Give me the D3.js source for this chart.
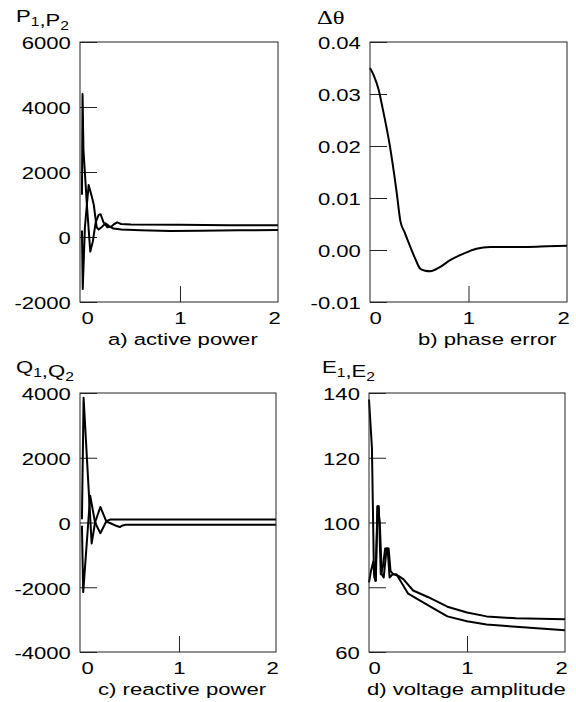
<!DOCTYPE html>
<html>
<head>
<meta charset="utf-8">
<script src="https://cdn.jsdelivr.net/npm/d3@7"></script>
<style>
body { margin: 0; background: #fff; }
text { font-family: "Liberation Sans", Arial, sans-serif; fill: #000; }
</style>
</head>
<body>
<div id="chart"></div>
<script>
// a) active power
const p1Time = [0, 0.006, 0.015, 0.05, 0.085, 0.11, 0.14, 0.17, 0.19, 0.22, 0.26, 0.3, 0.33, 0.36, 0.4, 0.5, 1, 1.5, 2];
const p1Val  = [1300, 4400, 2700, 1000, -450, -150, 450, 680, 700, 450, 300, 320, 400, 450, 400, 385, 375, 365, 360];
const p2Time = [0, 0.008, 0.03, 0.068, 0.1, 0.12, 0.15, 0.17, 0.2, 0.24, 0.28, 0.32, 0.4, 0.6, 0.9, 1.2, 1.6, 2];
const p2Val  = [200, -1600, 300, 1600, 1250, 1000, 300, 230, 300, 420, 330, 260, 230, 210, 185, 195, 205, 215];

// b) phase error
const dTime = [0, 0.04, 0.085, 0.13, 0.2, 0.27, 0.31, 0.35, 0.39, 0.46, 0.51, 0.56, 0.61, 0.66, 0.71, 0.81, 0.95, 1.08, 1.22, 1.4, 1.6, 1.8, 2];
const dVal  = [0.035, 0.0335, 0.031, 0.0271, 0.0202, 0.0112, 0.0054, 0.0035, 0.0015, -0.0017, -0.0036, -0.004, -0.0041, -0.0038, -0.0033, -0.002, -0.0007, 0.00025, 0.0006, 0.0006, 0.0006, 0.0007, 0.0008];

// c) reactive power
const q1Time = [0, 0.017, 0.1, 0.135, 0.19, 0.25, 0.29, 1, 2];
const q1Val  = [100, 3850, -650, 0, 480, 40, 90, 92, 92];
const q2Time = [0, 0.013, 0.085, 0.135, 0.19, 0.25, 0.3, 0.36, 0.39, 0.42, 0.45, 1, 2];
const q2Val  = [-100, -2150, 830, 0, -330, 30, -30, -110, -140, -90, -72, -72, -72];

// d) voltage amplitude
const e1Time = [0, 0.03, 0.05, 0.065, 0.09, 0.11, 0.13, 0.15, 0.18, 0.2, 0.22, 0.25, 0.3, 0.35, 0.45, 0.6, 0.8, 1.0, 1.2, 1.5, 2];
const e1Val  = [138, 123, 85, 82, 105, 100, 84, 83, 92, 92, 85, 84, 83.5, 82.5, 79, 77, 74, 72.2, 71, 70.4, 70.1];
const e2Time = [0, 0.02, 0.045, 0.055, 0.07, 0.085, 0.1, 0.12, 0.14, 0.165, 0.19, 0.21, 0.24, 0.28, 0.34, 0.4, 0.6, 0.8, 1.0, 1.2, 1.5, 2];
const e2Val  = [81.5, 85, 88, 83, 82, 105, 105, 84, 86, 92, 92, 83, 84, 84, 81, 78, 74.5, 71, 69.5, 68.5, 67.8, 66.7];

const xTicks = [0, 1, 2];
const stretch = "scale(1.3,1)";

const svg = d3.select("#chart").append("svg")
    .attr("width", 576)
    .attr("height", 702);

// texto con subíndices: "P_1,P_2"
function label(x, y, str, size, family) {
    const t = svg.append("text")
        .attr("transform", `translate(${x},${y}) ${stretch}`)
        .attr("font-size", size);
    if (family) t.style("font-family", family);
    const parts = str.split(/(_\d)/).filter(s => s.length);
    parts.forEach(s => {
        if (s[0] === "_") {
            t.append("tspan").attr("font-size", 12).attr("dy", 4).text(s.slice(1));
            t.append("tspan").attr("dy", -4).text("");
        } else {
            t.append("tspan").text(s);
        }
    });
    return t;
}

function panel(p) {
    const x = d3.scaleLinear().domain(p.xDomain).range([p.left, p.right]);
    const y = d3.scaleLinear().domain(p.yDomain).range([p.bottom, p.top]);
    const g = svg.append("g");

    // eje y, ticks hacia adentro
    const ya = g.append("g")
        .attr("transform", `translate(${p.left},0)`)
        .call(d3.axisLeft(y).tickValues(p.yTicks).tickFormat(p.yFormat).tickSize(-17).tickPadding(7));
    ya.attr("font-size", 17).attr("font-family", null);
    ya.select(".domain").remove();
    ya.selectAll("line").attr("stroke", "#222");
    ya.selectAll("text").attr("dy", "0.4em").attr("transform", stretch);

    // eje x, solo se dibuja la marca del 1
    const xa = g.append("g")
        .attr("transform", `translate(0,${p.bottom})`)
        .call(d3.axisBottom(x).tickValues(xTicks).tickFormat(d3.format("d")).tickSize(-16).tickPadding(10));
    xa.attr("font-size", 17).attr("font-family", null);
    xa.select(".domain").remove();
    xa.selectAll(".tick").filter(d => d !== 1).select("line").remove();
    xa.selectAll("line").attr("stroke", "#222");
    xa.selectAll("text")
        .attr("transform", stretch)
        .attr("x", d => d === 0 ? 4 : d === 2 ? -3 : 0);

    // líneas
    const line = d3.line()
        .x(d => x(d[0]))
        .y(d => y(d[1]))
        .curve(p.curve);
    p.series.forEach(s => {
        g.append("path")
            .datum(d3.zip(s[0], s[1]))
            .attr("fill", "none")
            .attr("stroke", "#000")
            .attr("stroke-width", 2)
            .attr("stroke-linejoin", "round")
            .attr("d", line);
    });

    // marco
    g.append("rect")
        .attr("x", p.left)
        .attr("y", p.top)
        .attr("width", p.right - p.left)
        .attr("height", p.bottom - p.top)
        .attr("fill", "none")
        .attr("stroke", "#222")
        .attr("stroke-width", 1);

    label(p.labelX, p.labelY, p.yLabel, p.labelSize || 17, p.labelFont);
    label(p.titleX, p.bottom + 43, p.title, 17);
}

const intFmt = d => String(d);

panel({
    left: 80, right: 278, top: 42, bottom: 302,
    xDomain: [-0.02, 2], yDomain: [-2000, 6000],
    yTicks: [-2000, 0, 2000, 4000, 6000], yFormat: intFmt,
    series: [[p1Time, p1Val], [p2Time, p2Val]],
    curve: d3.curveLinear,
    yLabel: "P_1,P_2", labelX: 16, labelY: 22,
    title: "a) active power", titleX: 108
});

panel({
    left: 370, right: 567, top: 42, bottom: 302,
    xDomain: [0, 2], yDomain: [-0.01, 0.04],
    yTicks: [-0.01, 0, 0.01, 0.02, 0.03, 0.04], yFormat: d => d.toFixed(2),
    series: [[dTime, dVal]],
    curve: d3.curveMonotoneX,
    yLabel: "Δθ", labelX: 317, labelY: 24, labelSize: 19, labelFont: '"Liberation Serif", "Times New Roman", serif',
    title: "b) phase error", titleX: 418
});

panel({
    left: 80, right: 276, top: 393, bottom: 652,
    xDomain: [-0.02, 2], yDomain: [-4000, 4000],
    yTicks: [-4000, -2000, 0, 2000, 4000], yFormat: intFmt,
    series: [[q1Time, q1Val], [q2Time, q2Val]],
    curve: d3.curveLinear,
    yLabel: "Q_1,Q_2", labelX: 16, labelY: 373,
    title: "c) reactive power", titleX: 98
});

panel({
    left: 369, right: 565, top: 393, bottom: 652,
    xDomain: [0, 2], yDomain: [60, 140],
    yTicks: [60, 80, 100, 120, 140], yFormat: intFmt,
    series: [[e1Time, e1Val], [e2Time, e2Val]],
    curve: d3.curveLinear,
    yLabel: "E_1,E_2", labelX: 322, labelY: 373,
    title: "d) voltage amplitude", titleX: 367
});
</script>
</body>
</html>
